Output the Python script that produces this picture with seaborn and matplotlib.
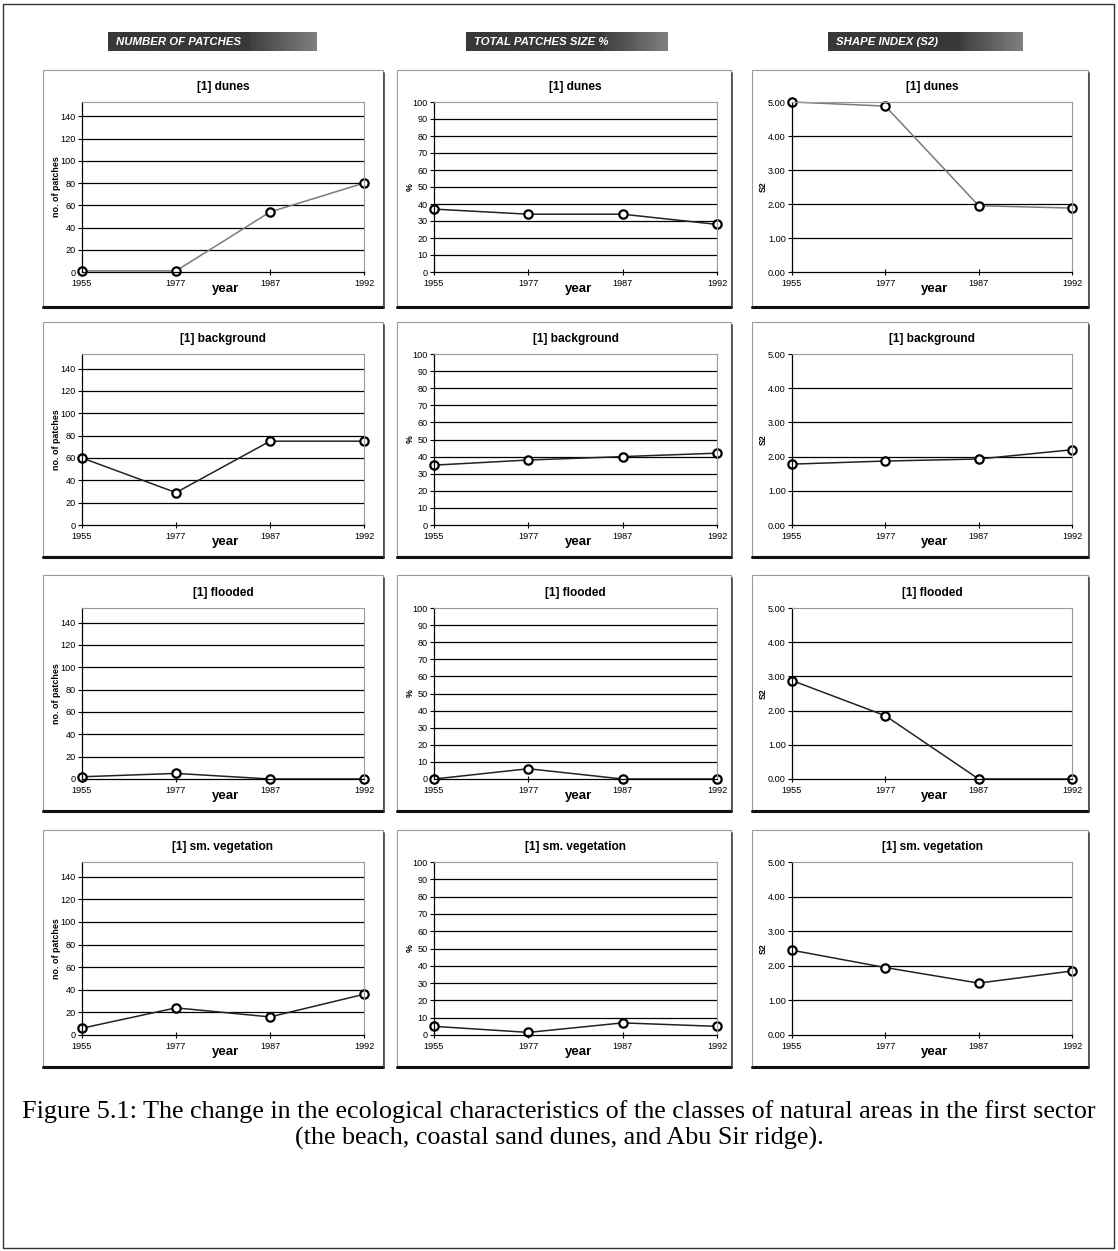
import numpy as np
import pandas as pd
import matplotlib
matplotlib.use("Agg")
import matplotlib.pyplot as plt
from matplotlib.patches import Rectangle
from matplotlib.lines import Line2D
import seaborn as sns

sns.set_theme(style="white")
plt.rcParams['font.family'] = ['Liberation Sans', 'DejaVu Sans']
plt.rcParams['text.color'] = 'black'
plt.rcParams['xtick.color'] = 'black'
plt.rcParams['ytick.color'] = 'black'
plt.rcParams['axes.labelcolor'] = 'black'

# ---------------- data ----------------
years = ["1955", "1977", "1987", "1992"]
classes = ["dunes", "background", "flooded", "sm. vegetation"]
column_headers = ["NUMBER OF PATCHES", "TOTAL PATCHES SIZE %", "SHAPE INDEX (S2)"]
y_labels = ["no. of patches", "%", "S2"]

patches_dunes = [1, 1, 54, 80]
patches_background = [60, 29, 75, 75]
patches_flooded = [2, 5, 0, 0]
patches_smveg = [6, 24, 16, 36]

size_dunes = [37, 34, 34, 28]
size_background = [35, 38, 40, 42]
size_flooded = [0, 6, 0, 0]
size_smveg = [5, 1.5, 7, 5]

shape_dunes = [5.00, 4.88, 1.95, 1.88]
shape_background = [1.78, 1.87, 1.93, 2.20]
shape_flooded = [2.88, 1.85, 0.00, 0.00]
shape_smveg = [2.45, 1.95, 1.50, 1.85]

patches_ticks = [0, 20, 40, 60, 80, 100, 120, 140]
size_ticks = [0, 10, 20, 30, 40, 50, 60, 70, 80, 90, 100]
shape_ticks = [0, 1, 2, 3, 4, 5]

caption_lines = [
    "Figure 5.1: The change in the ecological characteristics of the classes "
    "of natural areas in the first sector",
    "(the beach, coastal sand dunes, and Abu Sir ridge).",
]

series = [
    [patches_dunes, size_dunes, shape_dunes],
    [patches_background, size_background, shape_background],
    [patches_flooded, size_flooded, shape_flooded],
    [patches_smveg, size_smveg, shape_smveg],
]

# ---------------- layout (pixels) ----------------
W, H = 1118, 1251
fig = plt.figure(figsize=(W / 100, H / 100), dpi=100)
fig.patch.set_facecolor("white")


def fr(x0, y0, x1, y1):
    return [x0 / W, 1 - y1 / H, (x1 - x0) / W, (y1 - y0) / H]


plot_cols = [(82, 364), (434, 717), (792, 1072)]
plot_rows = [(102, 272), (354, 525), (608, 779), (862, 1035)]
frame_cols = [(43, 383), (397, 731), (752, 1088)]
frame_rows = [(70, 306), (322, 556), (575, 810), (830, 1066)]
header_cols = [(108, 317), (466, 668), (828, 1023)]

# outer border
fig.add_artist(Rectangle((3 / W, 3 / H), (1114 - 3) / W, (1247 - 3) / H,
                         transform=fig.transFigure, fill=False,
                         edgecolor="#333333", linewidth=1.0))

# headers
for (x0, x1), txt in zip(header_cols, column_headers):
    hax = fig.add_axes(fr(x0, 32, x1, 51))
    grad = np.concatenate([np.full(68, 0.22), np.linspace(0.25, 0.5, 32)])
    hax.imshow(grad[None, :], cmap="gray", vmin=0, vmax=1, aspect="auto",
               extent=[0, 1, 0, 1])
    hax.set_axis_off()
    hax.text(0.04, 0.48, txt, color="white", fontsize=8.2, fontweight="bold",
             fontstyle="italic", va="center", ha="left", transform=hax.transAxes)

# frames
for (fy0, fy1) in frame_rows:
    for (fx0, fx1) in frame_cols:
        fig.add_artist(Rectangle((fx0 / W, 1 - fy1 / H), (fx1 - fx0) / W, (fy1 - fy0) / H,
                                 transform=fig.transFigure, fill=False,
                                 edgecolor="#9a9a9a", linewidth=0.8))
        fig.add_artist(Line2D([fx0 / W, fx1 / W], [1 - (fy1 + 1) / H] * 2,
                              transform=fig.transFigure, color="#111111", linewidth=2.2))
        fig.add_artist(Line2D([(fx1 + 1) / W] * 2, [1 - (fy0 + 3) / H, 1 - (fy1 + 1) / H],
                              transform=fig.transFigure, color="#444444", linewidth=1.2))

ylims = [(0, 153), (0, 100), (0, 5)]
ticks_all = [patches_ticks, size_ticks, shape_ticks]
ylabel_x = [-0.089, -0.085, -0.104]
line_colors = [["#7a7a7a", "#222222", "#7a7a7a"],
               ["#222222", "#222222", "#222222"],
               ["#222222", "#222222", "#222222"],
               ["#222222", "#222222", "#222222"]]

for r, (ry0, ry1) in enumerate(plot_rows):
    for c, (cx0, cx1) in enumerate(plot_cols):
        ax = fig.add_axes(fr(cx0, ry0, cx1, ry1))
        df = pd.DataFrame({"year": years, "value": series[r][c]})
        sns.lineplot(data=df, x="year", y="value", ax=ax, sort=False,
                     color=line_colors[r][c], linewidth=1.1, marker="o",
                     markersize=6, markerfacecolor="white",
                     markeredgecolor="black", markeredgewidth=1.6, clip_on=False)
        ax.set_xlim(0, 3)
        ax.set_ylim(*ylims[c])
        ax.set_yticks(ticks_all[c])
        if c == 2:
            ax.set_yticklabels([f"{t:.2f}" for t in ticks_all[c]])
        else:
            ax.set_yticklabels([str(t) for t in ticks_all[c]])
        for t in ticks_all[c][1:]:
            if t < ylims[c][1]:
                ax.axhline(t, color="black", linewidth=0.9, zorder=0)
        ax.set_xlabel("")
        ax.set_ylabel("")
        ax.tick_params(axis="y", which="both", left=True, direction="out",
                       length=3, width=0.8, labelsize=6.6, pad=1.5, colors="black")
        ax.tick_params(axis="x", which="both", bottom=True, direction="inout",
                       length=5, width=0.8, labelsize=6.6, pad=2.5, colors="black")
        for s in ["top", "right"]:
            ax.spines[s].set_color("#9a9a9a")
            ax.spines[s].set_linewidth(0.8)
        for s in ["left", "bottom"]:
            ax.spines[s].set_color("black")
            ax.spines[s].set_linewidth(0.9)
        ax.text(0.5, 1 + 15 / 171, f"[1] {classes[r]}", transform=ax.transAxes,
                ha="center", va="center", fontsize=8.6, fontweight="bold", color="black")
        ax.text(0.51, -0.1, "year", transform=ax.transAxes, ha="center",
                va="center", fontsize=9.5, fontweight="bold", color="black")
        ax.text(ylabel_x[c], 0.5, y_labels[c], transform=ax.transAxes, rotation=90,
                ha="center", va="center", fontsize=6.4, fontweight="bold", color="black")

for i, (line, ypx) in enumerate(zip(caption_lines, [1112, 1138])):
    fig.text(0.5, 1 - ypx / H, line, ha="center", va="center", fontsize=18.8,
             color="black", family=["Liberation Serif", "DejaVu Serif"])

fig.savefig("out.png", dpi=100, facecolor="white")
